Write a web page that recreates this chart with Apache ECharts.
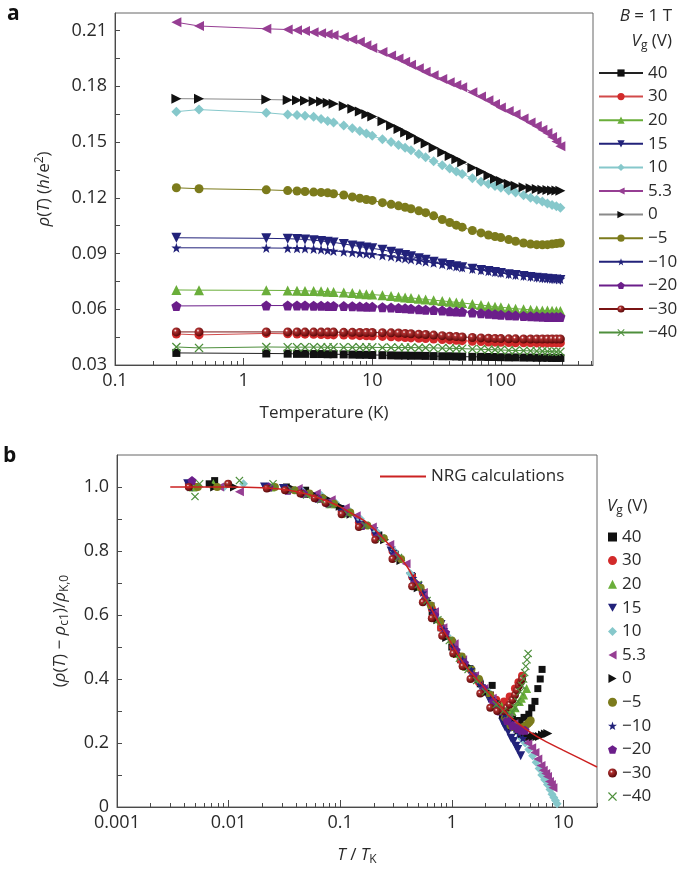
<!DOCTYPE html>
<html>
<head>
<meta charset="utf-8">
<script src="https://cdn.jsdelivr.net/npm/echarts@6/dist/echarts.min.js"></script>
<style>
html,body{margin:0;padding:0;background:#fff}
#chart{width:685px;height:872px}
</style>
</head>
<body>
<div id="chart"></div>
<script>
// panel a: resistivity vs temperature, one row per gate voltage
var tempA = [0.3, 0.45, 1.5, 2.2, 2.6, 3,
  3.5, 4, 4.5, 5, 6, 7,
  8, 9, 10, 12, 14, 16,
  18, 20, 23, 26, 30, 35,
  40, 45, 50, 60, 70, 80,
  90, 100, 115, 130, 150, 170,
  190, 210, 230, 250, 270, 290];

var rhoA40 = [0.0365, null, 0.0362, 0.0361, 0.0360, 0.0360,
  0.0359, 0.0359, 0.0358, 0.0358, 0.0357, 0.0356,
  0.0355, 0.0355, 0.0354, 0.0353, 0.0352, 0.0351,
  0.0351, 0.0350, 0.0350, 0.0349, 0.0348, 0.0347,
  0.0347, 0.0346, 0.0345, 0.0344, 0.0344, 0.0343,
  0.0343, 0.0342, 0.0341, 0.0341, 0.0340, 0.0340,
  0.0339, 0.0339, 0.0339, 0.0338, 0.0338, 0.0338];
var rhoA30 = [0.0467, 0.0462, 0.0470, 0.0468, 0.0467, 0.0466,
  0.0465, 0.0464, 0.0463, 0.0462, 0.0461, 0.0460,
  0.0458, 0.0457, 0.0456, 0.0454, 0.0452, 0.0450,
  0.0448, 0.0446, 0.0444, 0.0442, 0.0440, 0.0437,
  0.0435, 0.0433, 0.0431, 0.0428, 0.0426, 0.0424,
  0.0423, 0.0422, 0.0421, 0.0420, 0.0420, 0.0420,
  0.0419, 0.0419, 0.0419, 0.0419, 0.0419, 0.0419];
var rhoA20 = [0.0704, 0.0703, 0.0702, 0.0701, 0.0700, 0.0699,
  0.0698, 0.0697, 0.0695, 0.0693, 0.0690, 0.0687,
  0.0684, 0.0681, 0.0679, 0.0675, 0.0671, 0.0667,
  0.0664, 0.0661, 0.0657, 0.0653, 0.0649, 0.0645,
  0.0641, 0.0637, 0.0634, 0.0628, 0.0623, 0.0618,
  0.0614, 0.0611, 0.0607, 0.0603, 0.0600, 0.0597,
  0.0595, 0.0594, 0.0593, 0.0592, 0.0591, 0.0591];
var rhoA15 = [0.0985, null, 0.0982, 0.0980, 0.0978, 0.0976,
  0.0972, 0.0968, 0.0964, 0.0960, 0.0952, 0.0944,
  0.0938, 0.0932, 0.0928, 0.0920, 0.0910, 0.0900,
  0.0892, 0.0885, 0.0875, 0.0866, 0.0856, 0.0846,
  0.0838, 0.0832, 0.0826, 0.0818, 0.0812, 0.0806,
  0.0800, 0.0795, 0.0789, 0.0784, 0.0779, 0.0774,
  0.0770, 0.0767, 0.0764, 0.0762, 0.0760, 0.0758];
var rhoA10 = [0.1664, 0.1675, 0.1658, 0.1648, 0.1646, 0.1642,
  0.1637, 0.1625, 0.1614, 0.1605, 0.1590, 0.1575,
  0.1560, 0.1546, 0.1534, 0.1515, 0.1500, 0.1485,
  0.1470, 0.1456, 0.1436, 0.1418, 0.1397, 0.1375,
  0.1358, 0.1342, 0.1328, 0.1305, 0.1287, 0.1274,
  0.1264, 0.1254, 0.1240, 0.1228, 0.1214, 0.1201,
  0.1190, 0.1180, 0.1170, 0.1162, 0.1154, 0.1147];
var rhoA53 = [0.2145, 0.2125, 0.2110, 0.2106, 0.2102, 0.2098,
  0.2092, 0.2086, 0.2080, 0.2075, 0.2066, 0.2053,
  0.2040, 0.2022, 0.2007, 0.1985, 0.1966, 0.1950,
  0.1933, 0.1916, 0.1897, 0.1879, 0.1860, 0.1840,
  0.1822, 0.1808, 0.1795, 0.1768, 0.1745, 0.1725,
  0.1705, 0.1686, 0.1667, 0.1650, 0.1627, 0.1605,
  0.1586, 0.1567, 0.1549, 0.1528, 0.1503, 0.1478];
var rhoA0 = [0.1734, 0.1733, 0.1729, 0.1727, 0.1725, 0.1722,
  0.1720, 0.1718, 0.1712, 0.1706, 0.1695, 0.1680,
  0.1665, 0.1650, 0.1638, 0.1612, 0.1590, 0.1570,
  0.1551, 0.1536, 0.1512, 0.1492, 0.1470, 0.1446,
  0.1425, 0.1408, 0.1392, 0.1362, 0.1340, 0.1320,
  0.1303, 0.1290, 0.1276, 0.1265, 0.1257, 0.1251,
  0.1247, 0.1244, 0.1242, 0.1240, 0.1239, 0.1238];
var rhoAm5 = [0.1254, 0.1249, 0.1243, 0.1239, 0.1237, 0.1234,
  0.1231, 0.1229, 0.1227, 0.1222, 0.1215, 0.1205,
  0.1198, 0.1191, 0.1186, 0.1174, 0.1165, 0.1157,
  0.1149, 0.1141, 0.1130, 0.1120, 0.1103, 0.1083,
  0.1067, 0.1053, 0.1042, 0.1024, 0.1011, 0.1000,
  0.0992, 0.0986, 0.0975, 0.0966, 0.0957, 0.0951,
  0.0948, 0.0947, 0.0948, 0.0951, 0.0954, 0.0957];
var rhoAm10 = [0.0931, null, 0.0930, 0.0929, 0.0928, 0.0927,
  0.0925, 0.0922, 0.0918, 0.0914, 0.0910, 0.0906,
  0.0902, 0.0899, 0.0896, 0.0890, 0.0884, 0.0878,
  0.0873, 0.0868, 0.0862, 0.0856, 0.0850, 0.0843,
  0.0836, 0.0830, 0.0825, 0.0817, 0.0810, 0.0805,
  0.0800, 0.0796, 0.0790, 0.0785, 0.0780, 0.0776,
  0.0772, 0.0769, 0.0767, 0.0765, 0.0764, 0.0763];
var rhoAm20 = [0.0618, null, 0.0620, 0.0620, 0.0620, 0.0620,
  0.0619, 0.0619, 0.0618, 0.0618, 0.0617, 0.0616,
  0.0615, 0.0614, 0.0613, 0.0611, 0.0609, 0.0607,
  0.0605, 0.0603, 0.0600, 0.0598, 0.0596, 0.0593,
  0.0590, 0.0588, 0.0586, 0.0582, 0.0579, 0.0576,
  0.0573, 0.0571, 0.0568, 0.0566, 0.0564, 0.0562,
  0.0561, 0.0560, 0.0559, 0.0559, 0.0558, 0.0558];
var rhoAm30 = [0.0478, 0.0478, 0.0478, 0.0478, 0.0478, 0.0477,
  0.0477, 0.0477, 0.0477, 0.0477, 0.0476, 0.0476,
  0.0475, 0.0475, 0.0475, 0.0474, 0.0473, 0.0472,
  0.0470, 0.0468, 0.0466, 0.0464, 0.0461, 0.0458,
  0.0455, 0.0453, 0.0451, 0.0448, 0.0446, 0.0444,
  0.0443, 0.0442, 0.0441, 0.0441, 0.0440, 0.0440,
  0.0440, 0.0440, 0.0440, 0.0440, 0.0440, 0.0440];
var rhoAm40 = [0.0397, 0.0392, 0.0397, 0.0396, 0.0396, 0.0396,
  0.0396, 0.0396, 0.0395, 0.0395, 0.0395, 0.0395,
  0.0395, 0.0395, 0.0395, 0.0394, 0.0394, 0.0394,
  0.0394, 0.0394, 0.0393, 0.0393, 0.0392, 0.0391,
  0.0390, 0.0389, 0.0388, 0.0386, 0.0385, 0.0383,
  0.0382, 0.0381, 0.0379, 0.0378, 0.0377, 0.0376,
  0.0375, 0.0374, 0.0373, 0.0372, 0.0371, 0.0371];

// panel b: scaled data, [T/TK, normalised rho]
var b40 = [[0.0067,1.01],[0.0075,1.02],[0.033,1.0],[0.049,0.99],[0.067,0.965],[0.089,0.945],[0.111,0.925],[0.156,0.885],[0.222,0.85],[0.311,0.79],[0.444,0.72],[0.667,0.61],[0.8,0.56],[1.0,0.5],[1.2,0.46],[1.56,0.41],[1.8,0.385],[2.22,0.35],[2.3,0.38],[2.6,0.32],[3.0,0.295],[3.33,0.28],[3.5,0.275],[3.8,0.27],[4.1,0.27],[4.44,0.28],[4.9,0.29],[5.2,0.31],[5.56,0.33],[5.9,0.37],[6.2,0.40],[6.44,0.43]];
var b30 = [[0.0044,1.01],[0.0051,1.0],[0.022,1.0],[0.032,0.995],[0.044,0.985],[0.059,0.97],[0.074,0.955],[0.103,0.925],[0.147,0.89],[0.206,0.855],[0.294,0.8],[0.441,0.72],[0.55,0.67],[0.662,0.62],[0.8,0.56],[1.03,0.5],[1.2,0.46],[1.47,0.43],[1.75,0.39],[2.21,0.35],[2.5,0.335],[2.94,0.33],[3.3,0.345],[3.68,0.37],[3.95,0.39],[4.26,0.41]];
var b20 = [[0.0048,1.0],[0.0073,1.01],[0.024,1.0],[0.035,0.995],[0.048,0.98],[0.065,0.965],[0.081,0.948],[0.113,0.92],[0.161,0.885],[0.226,0.845],[0.323,0.79],[0.484,0.70],[0.6,0.65],[0.726,0.60],[0.9,0.54],[1.13,0.48],[1.35,0.44],[1.61,0.41],[2.0,0.37],[2.42,0.33],[2.8,0.315],[3.23,0.30],[3.45,0.30],[3.7,0.31],[4.03,0.33],[4.2,0.34],[4.4,0.35],[4.68,0.37]];
var b15 = [[0.0043,1.01],[0.021,1.0],[0.031,0.995],[0.043,0.985],[0.057,0.97],[0.071,0.955],[0.1,0.93],[0.143,0.895],[0.2,0.86],[0.286,0.80],[0.429,0.72],[0.5,0.69],[0.643,0.625],[0.8,0.57],[1.0,0.51],[1.2,0.465],[1.43,0.43],[1.75,0.385],[2.14,0.34],[2.5,0.30],[2.86,0.265],[3.0,0.25],[3.2,0.235],[3.4,0.215],[3.57,0.205],[3.75,0.19],[3.9,0.18],[4.14,0.16]];
var b10 = [[0.0091,1.0],[0.0136,1.01],[0.045,0.99],[0.067,0.975],[0.091,0.95],[0.121,0.925],[0.152,0.9],[0.212,0.86],[0.303,0.80],[0.424,0.73],[0.606,0.64],[0.75,0.585],[0.909,0.535],[1.1,0.49],[1.36,0.44],[1.7,0.40],[2.12,0.36],[2.5,0.32],[3.03,0.29],[3.4,0.26],[3.9,0.235],[4.2,0.215],[4.55,0.2],[4.9,0.18],[5.3,0.16],[5.7,0.14],[6.06,0.12],[6.4,0.10],[6.8,0.085],[7.2,0.07],[7.58,0.055],[7.9,0.04],[8.2,0.03],[8.5,0.02],[8.79,0.01]];
var b53 = [[0.0083,1.0],[0.0125,0.985],[0.042,0.995],[0.061,0.98],[0.083,0.96],[0.111,0.935],[0.139,0.91],[0.194,0.875],[0.278,0.82],[0.389,0.76],[0.556,0.67],[0.7,0.61],[0.833,0.56],[1.05,0.51],[1.25,0.46],[1.6,0.41],[1.94,0.37],[2.3,0.34],[2.78,0.305],[3.2,0.28],[3.6,0.26],[3.9,0.245],[4.17,0.235],[4.5,0.215],[4.8,0.2],[5.2,0.185],[5.56,0.17],[5.9,0.15],[6.3,0.13],[6.6,0.115],[6.94,0.105],[7.2,0.095],[7.5,0.08],[7.8,0.07],[8.06,0.06]];
var b0 = [[0.0075,1.0],[0.0113,1.0],[0.0375,0.995],[0.055,0.98],[0.075,0.965],[0.1,0.94],[0.125,0.915],[0.175,0.88],[0.25,0.835],[0.35,0.77],[0.5,0.685],[0.6,0.645],[0.75,0.585],[0.9,0.53],[1.125,0.48],[1.4,0.44],[1.75,0.40],[2.1,0.36],[2.5,0.33],[2.9,0.29],[3.3,0.27],[3.5,0.255],[3.75,0.25],[4.0,0.24],[4.3,0.23],[4.6,0.225],[5.0,0.22],[5.4,0.22],[5.8,0.22],[6.1,0.22],[6.5,0.225],[6.9,0.228],[7.25,0.23]];
var bm5 = [[0.0053,1.0],[0.0079,1.0],[0.026,1.0],[0.039,0.99],[0.053,0.98],[0.07,0.965],[0.088,0.948],[0.123,0.92],[0.175,0.88],[0.246,0.84],[0.351,0.775],[0.526,0.685],[0.65,0.63],[0.789,0.58],[1.0,0.52],[1.23,0.47],[1.5,0.43],[1.75,0.40],[2.2,0.35],[2.63,0.31],[3.0,0.28],[3.35,0.255],[3.6,0.25],[3.9,0.25],[4.1,0.248],[4.39,0.25],[4.6,0.255],[4.8,0.26],[4.95,0.265],[5.09,0.27]];
var bm10 = [[0.0045,1.0],[0.022,1.0],[0.033,0.995],[0.045,0.985],[0.06,0.97],[0.075,0.955],[0.104,0.925],[0.149,0.89],[0.209,0.855],[0.299,0.80],[0.448,0.715],[0.55,0.67],[0.672,0.615],[0.85,0.555],[1.04,0.50],[1.25,0.46],[1.49,0.43],[1.85,0.38],[2.24,0.34],[2.6,0.31],[2.99,0.29],[3.2,0.275],[3.4,0.265],[3.55,0.255],[3.73,0.245],[4.0,0.23],[4.33,0.215]];
var bm20 = [[0.0047,1.02],[0.023,1.0],[0.034,0.99],[0.047,0.98],[0.063,0.965],[0.078,0.95],[0.109,0.92],[0.156,0.88],[0.219,0.845],[0.313,0.785],[0.469,0.70],[0.58,0.65],[0.703,0.60],[0.88,0.545],[1.09,0.49],[1.3,0.45],[1.56,0.41],[1.95,0.37],[2.34,0.33],[2.7,0.30],[3.13,0.27],[3.5,0.255],[3.91,0.245],[4.2,0.24],[4.53,0.24]];
var bm30 = [[0.0044,1.0],[0.0099,1.01],[0.022,0.995],[0.032,0.99],[0.044,0.98],[0.059,0.965],[0.074,0.95],[0.103,0.915],[0.147,0.875],[0.206,0.835],[0.294,0.775],[0.441,0.69],[0.55,0.64],[0.662,0.59],[0.82,0.535],[1.03,0.48],[1.25,0.44],[1.47,0.40],[1.8,0.355],[2.21,0.31],[2.55,0.30],[2.94,0.30],[3.1,0.31],[3.3,0.32],[3.5,0.335],[3.68,0.35],[3.85,0.365],[4.0,0.38],[4.15,0.39],[4.26,0.40]];
var bm40 = [[0.005,0.97],[0.0055,1.01],[0.0125,1.02],[0.025,1.01],[0.037,0.99],[0.05,0.975],[0.067,0.96],[0.083,0.945],[0.117,0.915],[0.167,0.88],[0.233,0.84],[0.333,0.78],[0.5,0.695],[0.6,0.645],[0.75,0.585],[0.95,0.52],[1.17,0.465],[1.4,0.43],[1.67,0.395],[2.0,0.36],[2.5,0.32],[2.9,0.30],[3.33,0.29],[3.5,0.295],[3.7,0.31],[3.9,0.33],[4.1,0.36],[4.25,0.38],[4.4,0.40],[4.5,0.42],[4.6,0.44],[4.72,0.46],[4.83,0.48]];

var nrgX = [0.003, 0.005, 0.01, 0.02, 0.03, 0.05, 0.08, 0.1, 0.13, 0.16, 0.2, 0.25, 0.32, 0.4, 0.5, 0.64, 0.8, 1.0, 1.3, 1.8, 2.5, 3.35, 5, 6.6, 10, 14, 20];
var nrgY = [1.0, 1.0, 1.0, 0.998, 0.993, 0.978, 0.953, 0.938, 0.915, 0.897, 0.87, 0.835, 0.794, 0.75, 0.688, 0.625, 0.565, 0.51, 0.445, 0.388, 0.33, 0.281, 0.235, 0.209, 0.177, 0.152, 0.125];

var gateLabels = ['40', '30', '20', '15', '10', '5.3', '0', '\u22125', '\u221210', '\u221220', '\u221230', '\u221240'];

// ticks
var xMajorA = [0.1, 1, 10, 100];
var xMinorA = [0.2,0.3,0.4,0.5,0.6,0.7,0.8,0.9,2,3,4,5,6,7,8,9,20,30,40,50,60,70,80,90,200,300,400,500];
var yTicksA = [0.03,0.045,0.06,0.075,0.09,0.105,0.12,0.135,0.15,0.165,0.18,0.195,0.21];
var yLabelsA = [0.03,0.06,0.09,0.12,0.15,0.18,0.21];
var xMajorB = [0.001, 0.01, 0.1, 1, 10];
var xMinorB = [0.002,0.003,0.004,0.005,0.006,0.007,0.008,0.009,0.02,0.03,0.04,0.05,0.06,0.07,0.08,0.09,0.2,0.3,0.4,0.5,0.6,0.7,0.8,0.9,2,3,4,5,6,7,8,9,20];
var yTicksB = [0,0.1,0.2,0.3,0.4,0.5,0.6,0.7,0.8,0.9,1.0];
var yLabelsB = [0,0.2,0.4,0.6,0.8,1.0];

var FONT = '"Open Sans", "Noto Sans", sans-serif';
var AX = '#4a4a4a';
var TXT = '#2a2a2a';

var TRI_DOWN = 'path://M0,0 L10,0 L5,9 Z';
var TRI_LEFT = 'path://M0,5 L9,0 L9,10 Z';
var TRI_RIGHT = 'path://M0,0 L9,5 L0,10 Z';
var STAR = 'path://M5,0 L6.2,3.5 L10,3.6 L7,5.9 L8.1,9.5 L5,7.4 L1.9,9.5 L3,5.9 L0,3.6 L3.8,3.5 Z';
var PENTA = 'path://M5,0 L10,3.6 L8.1,9.5 L1.9,9.5 L0,3.6 Z';
var CROSS = 'path://M0,1 L1,0 L5,4 L9,0 L10,1 L6,5 L10,9 L9,10 L5,6 L1,10 L0,9 L4,5 Z';
var BALL = {type:'radial', x:0.38, y:0.35, r:0.65, colorStops:[{offset:0,color:'#ffffff'},{offset:0.25,color:'#b03030'},{offset:1,color:'#5a0808'}]};

var looks = [
  {sym:'rect', size:8, color:'#111', line:'#222'},
  {sym:'circle', size:9, color:'#d22a2a', line:'#d24a4a'},
  {sym:'triangle', size:10, color:'#6aae3a', line:'#6aae3a'},
  {sym:TRI_DOWN, size:10, color:'#22227a', line:'#22227a'},
  {sym:'diamond', size:10, color:'#86c8cb', line:'#86c8cb'},
  {sym:TRI_LEFT, size:10, color:'#963e93', line:'#963e93'},
  {sym:TRI_RIGHT, size:10, color:'#111', line:'#8a8a8a'},
  {sym:'circle', size:9, color:'#7c7b1c', line:'#7c7b1c'},
  {sym:STAR, size:10, color:'#22227a', line:'#22227a'},
  {sym:PENTA, size:10, color:'#6b1e8a', line:'#6b1e8a'},
  {sym:'circle', size:9, color:BALL, line:'#7a1414'},
  {sym:CROSS, size:9, color:'#4e8f3c', line:'#4e8f3c'}
];

var rhoA = [rhoA40, rhoA30, rhoA20, rhoA15, rhoA10, rhoA53, rhoA0, rhoAm5, rhoAm10, rhoAm20, rhoAm30, rhoAm40];
var scaledB = [b40, b30, b20, b15, b10, b53, b0, bm5, bm10, bm20, bm30, bm40];

var series = [];
gateLabels.forEach(function (g, k) {
  var lk = looks[k];
  series.push({
    name: 'a' + g, type: 'line', xAxisIndex: 0, yAxisIndex: 0,
    data: tempA.map(function (t, i) { return [t, rhoA[k][i]]; }),
    connectNulls: true, symbol: lk.sym, symbolSize: lk.size, showAllSymbol: true,
    itemStyle: {color: lk.color, opacity: 1},
    lineStyle: {color: lk.line, width: 1},
    emphasis: {disabled: true}, animation: false
  });
});
gateLabels.forEach(function (g, k) {
  var lk = looks[k];
  series.push({
    name: 'b' + g, type: 'scatter', xAxisIndex: 2, yAxisIndex: 1,
    data: scaledB[k], symbol: lk.sym, symbolSize: lk.size - 1,
    itemStyle: {color: lk.color, opacity: 1},
    emphasis: {disabled: true}, animation: false
  });
});
series.push({
  name: 'NRG calculations', type: 'line', xAxisIndex: 2, yAxisIndex: 1,
  data: nrgX.map(function (x, i) { return [x, nrgY[i]]; }),
  symbol: 'none', smooth: 0.3, lineStyle: {color: '#cc2222', width: 1.5},
  itemStyle: {color: '#cc2222'}, z: 5, animation: false
});

var rich = {
  i: {fontStyle: 'italic', fontSize: 17, fontFamily: FONT, color: TXT},
  sub: {fontSize: 12, fontFamily: FONT, color: TXT, padding: [9, 0, 0, 0]},
  sup: {fontSize: 12, fontFamily: FONT, color: TXT, padding: [0, 0, 9, 0]}
};
var nameStyle = {fontSize: 17, fontFamily: FONT, color: TXT, rich: rich};
var tickLabel = {fontSize: 18, fontFamily: FONT, color: TXT};

function logAxis(grid, min, max, major, minor, name, gap, pad) {
  return [{
    type: 'log', gridIndex: grid, min: min, max: max,
    axisLine: {show: true, onZero: false, lineStyle: {color: AX, width: 1}},
    axisTick: {show: true, inside: true, length: 7, customValues: major, lineStyle: {color: AX}},
    axisLabel: Object.assign({customValues: major, margin: 7, formatter: function (v) { return String(v); }}, tickLabel),
    splitLine: {show: false}, minorTick: {show: false},
    name: name, nameLocation: 'middle', nameGap: gap,
    nameTextStyle: Object.assign({padding: pad}, nameStyle)
  }, {
    type: 'log', gridIndex: grid, min: min, max: max, position: 'bottom',
    axisLine: {show: false, onZero: false},
    axisTick: {show: true, inside: true, length: 4, customValues: minor, lineStyle: {color: AX}},
    axisLabel: {show: false}, splitLine: {show: false}
  }];
}

var option = {
  backgroundColor: '#fff',
  animation: false,
  title: [
    {text: 'a', left: 7, top: 4, padding: 0, textStyle: {fontSize: 21, fontWeight: 'bold', color: '#111', fontFamily: FONT}},
    {text: 'b', left: 3, top: 446, padding: 0, textStyle: {fontSize: 21, fontWeight: 'bold', color: '#111', fontFamily: FONT}},
    {text: '{i|B} = 1 T', right: 13, top: 8, padding: 0, textStyle: {fontSize: 17, fontWeight: 'normal', color: TXT, fontFamily: FONT, rich: rich}},
    {text: '{i|V}{sub|g} (V)', right: 13, top: 31, padding: 0, textStyle: {fontSize: 17, fontWeight: 'normal', color: TXT, fontFamily: FONT, rich: rich}},
    {text: '{i|V}{sub|g} (V)', left: 607, top: 496, padding: 0, textStyle: {fontSize: 17, fontWeight: 'normal', color: TXT, fontFamily: FONT, rich: rich}}
  ],
  legend: [{
    orient: 'vertical', left: 598, top: 64, padding: 0,
    itemWidth: 44, itemHeight: 9, itemGap: 5.6, selectedMode: false,
    data: gateLabels.map(function (g) { return 'a' + g; }),
    formatter: function (n) { return n.slice(1); },
    textStyle: {fontSize: 17, fontFamily: FONT, color: TXT, lineHeight: 18}
  }, {
    orient: 'vertical', left: 608, top: 528, padding: 0,
    itemWidth: 9, itemHeight: 9, itemGap: 5.6, selectedMode: false,
    data: gateLabels.map(function (g) { return 'b' + g; }),
    formatter: function (n) { return n.slice(1); },
    textStyle: {fontSize: 17, fontFamily: FONT, color: TXT, lineHeight: 18}
  }, {
    left: 380, top: 468, padding: 0, itemWidth: 46, itemHeight: 2, selectedMode: false,
    data: [{name: 'NRG calculations', icon: 'rect'}],
    textStyle: {fontSize: 17, fontFamily: FONT, color: TXT}
  }],
  grid: [
    {left: 115, top: 13, width: 478, height: 352, show: true, borderColor: '#666', borderWidth: 1, backgroundColor: 'transparent'},
    {left: 117, top: 455, width: 480, height: 352, show: true, borderColor: '#666', borderWidth: 1, backgroundColor: 'transparent'}
  ],
  xAxis: logAxis(0, 0.1, 520, xMajorA, xMinorA, 'Temperature (K)', 40, [0, 60, 0, 0])
    .concat(logAxis(1, 0.001, 20, xMajorB, xMinorB, '{i|T} / {i|T}{sub|K}', 38, [0, 0, 0, 0])),
  yAxis: [{
    type: 'value', gridIndex: 0, min: 0.03, max: 0.2195, interval: 0.03,
    axisLine: {show: true, lineStyle: {color: AX}},
    axisTick: {show: true, inside: true, length: 5, customValues: yTicksA, lineStyle: {color: AX}},
    axisLabel: Object.assign({customValues: yLabelsA, margin: 8, formatter: function (v) { return v.toFixed(2); }}, tickLabel),
    splitLine: {show: false},
    name: '{i|\u03c1}({i|T}) ({i|h}/e{sup|2})', nameLocation: 'middle', nameGap: 60,
    nameTextStyle: nameStyle
  }, {
    type: 'value', gridIndex: 1, min: 0, max: 1.1, interval: 0.2,
    axisLine: {show: true, onZero: false, lineStyle: {color: AX}},
    axisTick: {show: true, inside: true, length: 5, customValues: yTicksB, lineStyle: {color: AX}},
    axisLabel: Object.assign({customValues: yLabelsB, margin: 8, formatter: function (v) { return v === 0 ? '0' : v.toFixed(1); }}, tickLabel),
    splitLine: {show: false},
    name: '({i|\u03c1}({i|T}) \u2212 {i|\u03c1}{sub|c1})/{i|\u03c1}{sub|K,0}', nameLocation: 'middle', nameGap: 46,
    nameTextStyle: nameStyle
  }],
  series: series
};

var chart = echarts.init(document.getElementById('chart'), null, {renderer: 'canvas'});
chart.setOption(option);
</script>
</body>
</html>
